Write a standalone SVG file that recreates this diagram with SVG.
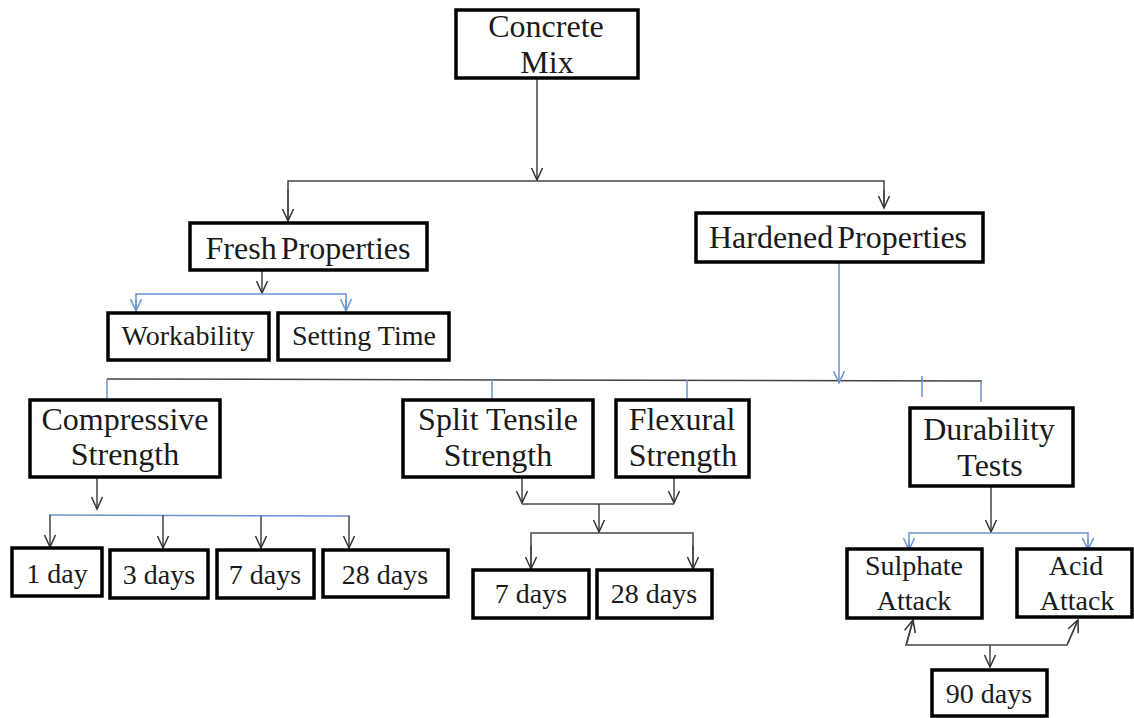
<svg xmlns="http://www.w3.org/2000/svg" width="1134" height="718" viewBox="0 0 1134 718">
<style>
.box{fill:#fff;stroke:#000;stroke-width:3.5}
.t{font-family:"Liberation Serif","Times New Roman",serif;fill:#1a1a1a;text-anchor:middle}
.big{font-size:32px}
.sm{font-size:28px}
.tight{word-spacing:-4px}
.k{fill:none;stroke:#444;stroke-width:1.5}
.b{fill:none;stroke:#6b93cf;stroke-width:1.5}
.ka{marker-end:url(#ak)}
.ba{marker-end:url(#ab)}
</style>
<defs>
<marker id="ak" markerUnits="userSpaceOnUse" orient="auto" overflow="visible" refX="0" refY="0" markerWidth="14" markerHeight="14">
<path d="M-12,-5.5 L0,0 L-12,5.5" fill="none" stroke="#333" stroke-width="1.5"/>
</marker>
<marker id="ab" markerUnits="userSpaceOnUse" orient="auto" overflow="visible" refX="0" refY="0" markerWidth="14" markerHeight="14">
<path d="M-12,-5.5 L0,0 L-12,5.5" fill="none" stroke="#6b93cf" stroke-width="1.5"/>
</marker>
</defs>
<rect width="1134" height="718" fill="#fff"/>
<g id="connectors">
<line class="k ka" x1="537" y1="78" x2="537" y2="180"/>
<polyline class="k" points="288,221 288,181 884,181 884,208"/>
<line class="k ka" x1="288" y1="190" x2="288" y2="221"/>
<line class="k ka" x1="884" y1="190" x2="884" y2="208"/>
<line class="k ka" x1="262" y1="270" x2="262" y2="293"/>
<polyline class="b" points="136,311 136,294 346,294 346,311"/>
<line class="b ba" x1="136" y1="300" x2="136" y2="311"/>
<line class="b ba" x1="346" y1="300" x2="346" y2="311"/>
<line class="k" x1="107" y1="379" x2="982" y2="381"/>
<line class="b ba" x1="839" y1="262" x2="839" y2="383"/>
<line class="b" x1="107" y1="379" x2="107" y2="399"/>
<line class="b" x1="492" y1="380" x2="492" y2="399"/>
<line class="b" x1="687" y1="380" x2="687" y2="399"/>
<line class="b" x1="922" y1="376" x2="922" y2="397"/>
<line class="b" x1="981" y1="381" x2="981" y2="402"/>
<line class="k ka" x1="97" y1="477" x2="97" y2="509"/>
<line class="b" x1="49" y1="515" x2="350" y2="516"/>
<line class="k ka" x1="50" y1="515" x2="50" y2="547"/>
<line class="k ka" x1="163" y1="515" x2="163" y2="548"/>
<line class="k ka" x1="261" y1="516" x2="261" y2="548"/>
<line class="k ka" x1="349" y1="516" x2="349" y2="548"/>
<line class="k ka" x1="522" y1="477" x2="522" y2="503"/>
<line class="k ka" x1="674" y1="477" x2="674" y2="503"/>
<line class="k" x1="522" y1="504" x2="674" y2="504"/>
<line class="k ka" x1="599" y1="504" x2="599" y2="532"/>
<polyline class="k" points="531,569 531,533 693,533 693,569"/>
<line class="k ka" x1="531" y1="545" x2="531" y2="569"/>
<line class="k ka" x1="693" y1="545" x2="693" y2="569"/>
<line class="k ka" x1="991" y1="486" x2="991" y2="532"/>
<polyline class="b" points="909,550 909,533 1088,533 1088,550"/>
<line class="b ba" x1="909" y1="540" x2="909" y2="550"/>
<line class="b ba" x1="1088" y1="540" x2="1088" y2="550"/>
<polyline class="k" points="913,620 906,645 1067,645 1078,620"/>
<line class="k ka" x1="907" y1="643" x2="913" y2="620"/>
<line class="k ka" x1="1068" y1="643" x2="1078" y2="620"/>
<line class="k ka" x1="990" y1="645" x2="990" y2="667"/>
</g>
<g id="concrete-mix"><rect class="box" x="456" y="10" width="182" height="68"/><text class="t big" x="546" y="37">Concrete</text><text class="t big" x="547" y="73">Mix</text></g>
<g id="fresh-properties"><rect class="box" x="190" y="223" width="237" height="47"/><text class="t big tight" x="308" y="259">Fresh Properties</text></g>
<g id="hardened-properties"><rect class="box" x="696" y="213" width="287" height="49"/><text class="t big tight" x="838" y="248">Hardened Properties</text></g>
<g id="workability"><rect class="box" x="108" y="313" width="161" height="47"/><text class="t sm" x="188" y="345">Workability</text></g>
<g id="setting-time"><rect class="box" x="278" y="313" width="171" height="47"/><text class="t sm" x="364" y="345">Setting Time</text></g>
<g id="compressive-strength"><rect class="box" x="30" y="400" width="190" height="77"/><text class="t big" x="125" y="430">Compressive</text><text class="t big" x="125" y="465">Strength</text></g>
<g id="split-tensile-strength"><rect class="box" x="403" y="400" width="190" height="77"/><text class="t big" x="498" y="430">Split Tensile</text><text class="t big" x="498" y="466">Strength</text></g>
<g id="flexural-strength"><rect class="box" x="616" y="400" width="133" height="77"/><text class="t big" x="682" y="430">Flexural</text><text class="t big" x="683" y="466">Strength</text></g>
<g id="durability-tests"><rect class="box" x="910" y="408" width="163" height="78"/><text class="t big" x="989" y="440">Durability</text><text class="t big" x="990" y="476">Tests</text></g>
<g id="c-1day"><rect class="box" x="12" y="548" width="90" height="48"/><text class="t sm" x="57" y="583">1 day</text></g>
<g id="c-3days"><rect class="box" x="110" y="550" width="98" height="48"/><text class="t sm" x="159" y="584">3 days</text></g>
<g id="c-7days"><rect class="box" x="217" y="550" width="97" height="48"/><text class="t sm" x="265" y="584">7 days</text></g>
<g id="c-28days"><rect class="box" x="323" y="550" width="125" height="47"/><text class="t sm" x="385" y="584">28 days</text></g>
<g id="t-7days"><rect class="box" x="473" y="570" width="116" height="48"/><text class="t sm" x="531" y="603">7 days</text></g>
<g id="t-28days"><rect class="box" x="597" y="570" width="115" height="48"/><text class="t sm" x="654" y="603">28 days</text></g>
<g id="sulphate-attack"><rect class="box" x="847" y="549" width="135" height="69"/><text class="t sm" x="914" y="575">Sulphate</text><text class="t sm" x="914" y="610">Attack</text></g>
<g id="acid-attack"><rect class="box" x="1017" y="549" width="115" height="68"/><text class="t sm" x="1076" y="575">Acid</text><text class="t sm" x="1077" y="610">Attack</text></g>
<g id="d-90days"><rect class="box" x="932" y="670" width="115" height="46"/><text class="t sm" x="989" y="703">90 days</text></g>
</svg>
